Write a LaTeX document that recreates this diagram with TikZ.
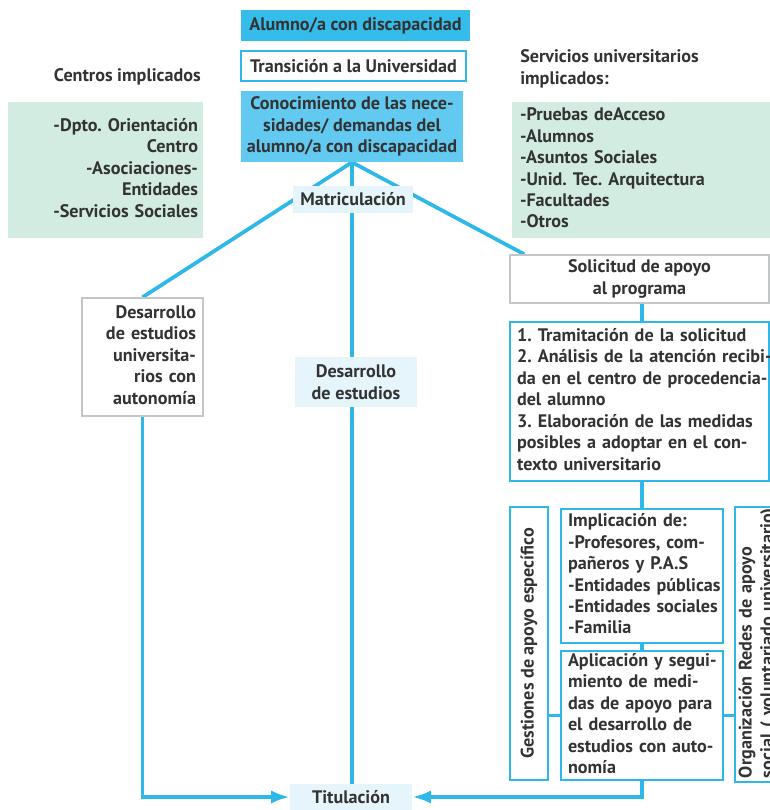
\documentclass[tikz,border=0pt]{standalone}
\usepackage{fontspec}
\setmainfont{PT Sans}
\usetikzlibrary{arrows.meta,backgrounds,calc}
\definecolor{cy}{HTML}{2EB8EA}
\definecolor{fillA}{HTML}{35BCEB}
\definecolor{fillB}{HTML}{62C9F1}
\definecolor{mint}{HTML}{D3ECE2}
\definecolor{pale}{HTML}{E6F5FB}
\definecolor{greyb}{HTML}{C2C6C6}
\definecolor{txt}{HTML}{333333}
\frenchspacing
\begin{document}
\begin{tikzpicture}[x=0.75pt,y=-0.75pt,
  every node/.style={font=\bfseries\fontsize{13.6}{16.1}\selectfont\frenchspacing, text=txt, inner sep=0pt},
  sz/.style 2 args={minimum width=#1*0.75pt, minimum height=#2*0.75pt},
  fillbox/.style={fill=fillA},
  lfill/.style={fill=fillB},
  cbox/.style={draw=cy, line width=1.4pt, fill=white},
  gbox/.style={draw=greyb, line width=1.1pt, fill=white},
  mintbox/.style={fill=mint},
  lab/.style={fill=pale},
  conn/.style={draw=cy, line width=2.8pt},
  arr/.style={conn, -{Latex[length=14pt,width=10pt]}}]
\useasboundingbox (0,0) rectangle (770,810);
\clip (0,0) rectangle (770,810);

\node[fillbox, sz={229}{31}] (alum) at (355.5,25.5) {Alumno/a con discapacidad};
\node[cbox, sz={225}{30}] (trans) at (353.5,66) {Transición a la Universidad};
\node[lfill, sz={222}{71}, align=center] (conoc) at (352,126.5) {Conocimiento de las nece-\\sidades/ demandas del\\alumno/a con discapacidad};
\node[lab, sz={120}{27}] (matr) at (353,199.5) {Matriculación};

\node[anchor=east] (centt) at (201,77) {Centros implicados};
\node[mintbox, sz={195}{136}, text width=138.75pt, align=right] (cent) at (105.5,170)
  {\begin{tabular}{@{}r@{}}-Dpto. Orientación\\Centro\\-Asociaciones-\\Entidades\\-Servicios Sociales\end{tabular}};

\node[anchor=west, align=left] (servt) at (520,69) {Servicios universitarios\\implicados:};
\node[mintbox, sz={263}{136}, text width=185.25pt, align=left] (serv) at (643.5,170)
  {\begin{tabular}{@{}l@{}}-Pruebas deAcceso\\-Alumnos\\-Asuntos Sociales\\-Unid. Tec. Arquitectura\\-Facultades\\-Otros\end{tabular}};

\node[gbox, sz={121}{118}, text width=80.25pt, align=right] (desL) at (142.5,357)
  {\begin{tabular}{@{}r@{}}Desarrollo\\de estudios\\universita-\\rios con\\autonomía\end{tabular}};
\node[lab, sz={122}{50}, align=center] (desC) at (356,382) {Desarrollo\\de estudios};
\node[lab, sz={122}{26}] (titul) at (351,797) {Titulación};

\node[gbox, sz={259}{48}, align=center] (solic) at (639.5,279) {Solicitud de apoyo\\al programa};
\node[cbox, sz={259}{159}, text width=183.75pt, align=left] (proc) at (639.5,401.5)
  {\begin{tabular}{@{}l@{}}1. Tramitación de la solicitud\\2. Análisis de la atención recibi-\\da en el centro de procedencia-\\del alumno\\3. Elaboración de las medidas\\posibles a adoptar en el con-\\texto universitario\end{tabular}};

\node[cbox, rotate=90, sz={273}{38}] (gest) at (529,643.5) {Gestiones de apoyo específico};
\node[cbox, sz={162}{134}, text width=111pt, align=left] (impl) at (642,576)
  {\begin{tabular}{@{}l@{}}Implicación de:\\-Profesores, com-\\pañeros y P.A.S\\-Entidades públicas\\-Entidades sociales\\-Familia\end{tabular}};
\node[cbox, sz={162}{129}, text width=111pt, align=left] (aplic) at (642,715.5)
  {\begin{tabular}{@{}l@{}}Aplicación y segui-\\miento de medi-\\das de apoyo para\\el desarrollo de\\estudios con auto-\\nomía\end{tabular}};
\node[cbox, rotate=90, sz={275}{46}, text width=200.25pt, align=left] (org) at (758,644.5)
  {\begin{tabular}{@{}l@{}}Organización Redes de apoyo\\social ( voluntariado universitario)\end{tabular}};

\begin{scope}[on background layer]
\draw[conn] (conoc.south) -- (desL.north);
\draw[conn] (conoc.south) -- ($(solic.north west)+(15,0)$);
\draw[conn] (conoc.south) -- (conoc.south |- titul.north);
\draw[arr] (desL.south) |- (titul.west);
\draw[conn] (solic.south -| impl.north) -- (proc.north -| impl.north);
\draw[conn] (proc.south -| impl.north) -- (impl.north);
\draw[conn] (impl.south) -- (aplic.north);
\draw[conn] (aplic.west) -- (aplic.west -| gest.south);
\draw[conn] (aplic.east) -- (aplic.east -| org.north);
\draw[arr] (aplic.south) |- (titul.east);
\end{scope}
\end{tikzpicture}
\end{document}
